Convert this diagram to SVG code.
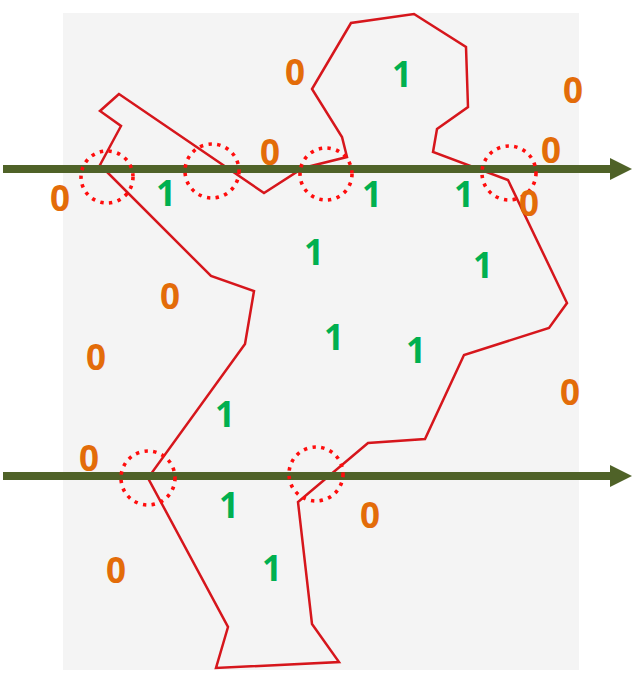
<svg xmlns="http://www.w3.org/2000/svg" width="637" height="683" viewBox="0 0 637 683">
<style>
.bg{fill:#f4f4f4}
.shape{fill:none;stroke:#d6161c;stroke-width:2.5;stroke-linejoin:miter}
.ring{fill:none;stroke:#ff0d0d;stroke-width:3.6;stroke-dasharray:3.4 5.4}
.ray{stroke:#4f6228;stroke-width:8}
.head{fill:#4f6228}
.z{fill:#e36c09;font-family:"Open Sans","Liberation Sans",sans-serif;font-weight:bold;font-size:35px;text-anchor:middle}
.o{fill:#00b050;font-family:"Open Sans","Liberation Sans",sans-serif;font-weight:bold;font-size:35px;text-anchor:middle}
</style>
<rect class="bg" x="63" y="13" width="516" height="657"/>
<g id="polygon">
<polygon class="shape" points="119,94 100,111 121,126 100,165 211,276 254,291 245,344 148,478 228,627 216,668 339,662 312,624 298,502 368,443 425,439 464,355 549,328 567,303 508,180 433,152 437,129 468,107 466,47 414,14 351,23 312,89 342,137 347,157 303,168 264,193"/>
</g>
<g id="connectors">
<line class="ray" x1="3" y1="169" x2="612" y2="169"/>
<polygon class="head" points="610,158 632,169 610,180"/>
<line class="ray" x1="3" y1="476" x2="612" y2="476"/>
<polygon class="head" points="610,465 632,476 610,487"/>
</g>
<g id="crossings">
<circle class="ring" cx="107" cy="177" r="26"/>
<circle class="ring" cx="212" cy="171" r="27"/>
<circle class="ring" cx="326" cy="174" r="26"/>
<circle class="ring" cx="509" cy="173" r="27"/>
<circle class="ring" cx="148" cy="478" r="27"/>
<circle class="ring" cx="316" cy="474" r="27"/>
</g>
<g id="outside">
<text class="z" x="295" y="85">0</text>
<text class="z" x="573" y="103">0</text>
<text class="z" x="270" y="165">0</text>
<text class="z" x="551" y="163">0</text>
<text class="z" x="60" y="211">0</text>
<text class="z" x="529" y="216">0</text>
<text class="z" x="170" y="309">0</text>
<text class="z" x="96" y="370">0</text>
<text class="z" x="570" y="405">0</text>
<text class="z" x="89" y="471">0</text>
<text class="z" x="370" y="528">0</text>
<text class="z" x="116" y="583">0</text>
</g>
<g id="inside">
<text class="o" x="402" y="87">1</text>
<text class="o" x="166" y="206">1</text>
<text class="o" x="372" y="207">1</text>
<text class="o" x="464" y="207">1</text>
<text class="o" x="314" y="265">1</text>
<text class="o" x="483" y="278">1</text>
<text class="o" x="334" y="350">1</text>
<text class="o" x="416" y="363">1</text>
<text class="o" x="225" y="427">1</text>
<text class="o" x="229" y="518">1</text>
<text class="o" x="272" y="581">1</text>
</g>
</svg>
